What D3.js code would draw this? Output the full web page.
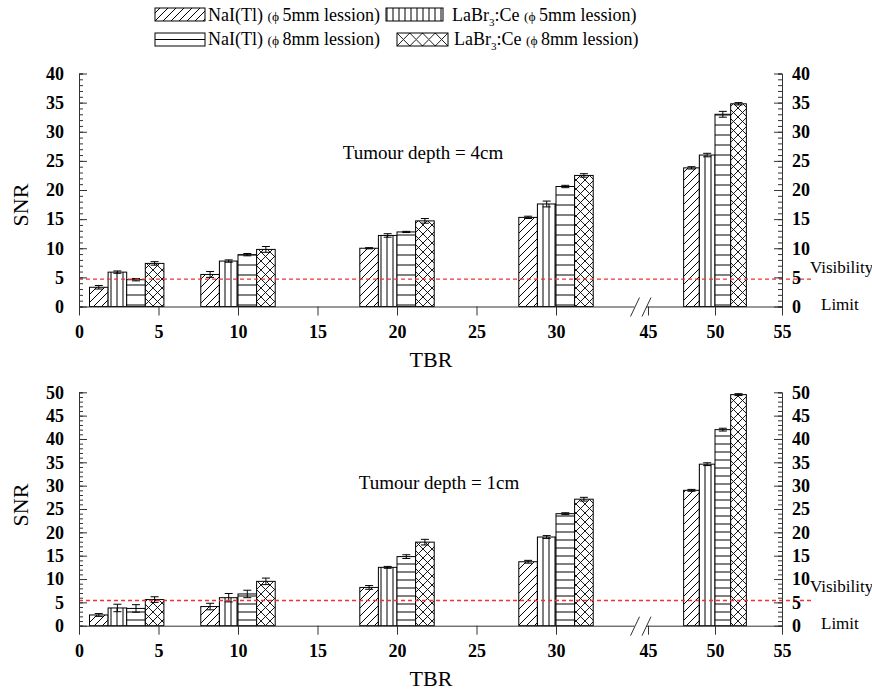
<!DOCTYPE html>
<html>
<head>
<meta charset="utf-8">
<script src="https://cdn.jsdelivr.net/npm/d3@7"></script>
<style>
  body { margin: 0; background: #fff; }
  text { font-family: "Liberation Serif", "Tinos", "Times New Roman", "DejaVu Serif", serif; }
</style>
</head>
<body>
<script>
// TBR groups and series
var tbr = [3, 10, 20, 30, 50];
var seriesNames = ["NaI(Tl) 5mm", "LaBr3:Ce 5mm", "NaI(Tl) 8mm", "LaBr3:Ce 8mm"];

// tumour depth = 4cm
var nai5_4cm  = [3.3, 5.5, 10.0, 15.3, 23.8];
var labr5_4cm = [5.9, 7.8, 12.2, 17.6, 26.0];
var nai8_4cm  = [4.6, 8.9, 12.8, 20.6, 33.0];
var labr8_4cm = [7.4, 9.8, 14.7, 22.5, 34.8];
var err_nai5_4cm  = [0.3, 0.5, 0.1, 0.2, 0.2];
var err_labr5_4cm = [0.2, 0.2, 0.3, 0.5, 0.3];
var err_nai8_4cm  = [0.2, 0.2, 0.1, 0.2, 0.5];
var err_labr8_4cm = [0.3, 0.5, 0.4, 0.3, 0.2];

// tumour depth = 1cm
var nai5_1cm  = [2.3, 4.1, 8.2, 13.7, 29.0];
var labr5_1cm = [3.8, 6.0, 12.5, 19.0, 34.6];
var nai8_1cm  = [3.7, 6.8, 14.8, 24.0, 42.0];
var labr8_1cm = [5.6, 9.5, 17.9, 27.1, 49.5];
var err_nai5_1cm  = [0.3, 0.7, 0.4, 0.3, 0.2];
var err_labr5_1cm = [0.8, 0.9, 0.2, 0.3, 0.3];
var err_nai8_1cm  = [0.8, 0.8, 0.4, 0.2, 0.3];
var err_labr8_1cm = [0.6, 0.7, 0.6, 0.4, 0.2];

var xTicks = [0, 5, 10, 15, 20, 25, 30, 45, 50, 55];
var visLimit4cm = 4.7, visLimit1cm = 5.4;

var barW = 1.17; // bar width in TBR units

var svg = d3.select("body").append("svg")
    .attr("width", 872)
    .attr("height", 692);

var defs = svg.append("defs");

// hatch patterns
function makePatterns(id, hSpace, cross, ox, oy) {
    ox = ox || 0; oy = oy || 0;
    var p1 = defs.append("pattern").attr("id", "diag" + id)
        .attr("patternUnits", "userSpaceOnUse").attr("width", 8).attr("height", 8);
    p1.append("rect").attr("width", 8).attr("height", 8).attr("fill", "#fff");
    p1.append("path").attr("d", "M-2,2 L2,-2 M0,8 L8,0 M6,10 L10,6")
        .attr("stroke", "#000").attr("stroke-width", 1);

    var p2 = defs.append("pattern").attr("id", "vert" + id)
        .attr("patternUnits", "userSpaceOnUse").attr("width", 6).attr("height", 6);
    p2.append("rect").attr("width", 6).attr("height", 6).attr("fill", "#fff");
    p2.append("path").attr("d", "M3,0 L3,6").attr("stroke", "#000").attr("stroke-width", 1);

    var p3 = defs.append("pattern").attr("id", "horz" + id)
        .attr("patternUnits", "userSpaceOnUse").attr("y", oy)
        .attr("width", 8).attr("height", hSpace);
    p3.append("rect").attr("width", 8).attr("height", hSpace).attr("fill", "#fff");
    p3.append("path").attr("d", "M0," + (hSpace / 2) + " L8," + (hSpace / 2))
        .attr("stroke", "#000").attr("stroke-width", 1);

    var p4 = defs.append("pattern").attr("id", "cross" + id)
        .attr("patternUnits", "userSpaceOnUse").attr("x", ox).attr("y", oy)
        .attr("width", cross[0]).attr("height", cross[1]);
    p4.append("rect").attr("width", cross[0]).attr("height", cross[1]).attr("fill", "#fff");
    p4.append("path").attr("d", "M0,0 L" + cross[0] + "," + cross[1] + " M0," + cross[1] + " L" + cross[0] + ",0")
        .attr("stroke", "#000").attr("stroke-width", 0.9);
}
makePatterns("A", 10, [9, 9]);
makePatterns("B", 8, [9, 9]);
makePatterns("L", 13, [12.75, 13], 397, 33);

var x = d3.scaleLinear()
    .domain([0, 35, 45, 55])
    .range([79, 635.5, 648, 782]);

function drawPanel(cfg) {
    var y = d3.scaleLinear().domain([0, cfg.ymax]).range([cfg.y0, cfg.y1]);
    var g = svg.append("g");
    var fills = ["url(#diag" + cfg.id + ")", "url(#vert" + cfg.id + ")",
                 "url(#horz" + cfg.id + ")", "url(#cross" + cfg.id + ")"];

    cfg.series.forEach(function(vals, s) {
        var errs = cfg.errors[s];
        var data = tbr.map(function(t, i) {
            var left = t - 2 * barW + s * barW;
            return {x0: left, x1: left + barW, v: vals[i], e: errs[i]};
        });
        g.selectAll(".bar" + s).data(data).enter().append("rect")
            .attr("x", function(d) { return x(d.x0); })
            .attr("width", function(d) { return x(d.x1) - x(d.x0); })
            .attr("y", function(d) { return y(d.v); })
            .attr("height", function(d) { return y(0) - y(d.v); })
            .attr("fill", fills[s])
            .attr("stroke", "#000")
            .attr("stroke-width", 1);

        var eb = g.selectAll(".err" + s).data(data).enter().append("g");
        eb.append("path")
            .attr("d", function(d) {
                var cx = (x(d.x0) + x(d.x1)) / 2;
                var top = y(d.v + d.e), bot = y(d.v - d.e);
                return "M" + (cx - 4) + "," + top + "H" + (cx + 4) +
                       "M" + cx + "," + top + "V" + bot +
                       "M" + (cx - 4) + "," + bot + "H" + (cx + 4);
            })
            .attr("stroke", "#000")
            .attr("stroke-width", 1)
            .attr("fill", "none");
    });

    // visibility limit
    g.append("line")
        .attr("x1", x(0)).attr("x2", 813)
        .attr("y1", y(cfg.limit)).attr("y2", y(cfg.limit))
        .attr("stroke", "#ee3333")
        .attr("stroke-width", 1.3)
        .attr("stroke-dasharray", "4,3");

    // left axis
    var left = g.append("g").attr("transform", "translate(" + x(0) + ",0)");
    left.call(d3.axisLeft(y).ticks(cfg.ymax / 5).tickSize(-8).tickSizeOuter(0).tickPadding(15));
    left.append("g").call(d3.axisLeft(y).tickValues(d3.range(0, cfg.ymax + 1, 1))
        .tickSize(-4).tickFormat(""));
    // right axis
    var right = g.append("g").attr("transform", "translate(" + x(55) + ",0)");
    right.call(d3.axisRight(y).ticks(cfg.ymax / 5).tickSize(-8).tickSizeOuter(0).tickPadding(10));
    right.append("g").call(d3.axisRight(y).tickValues(d3.range(0, cfg.ymax + 1, 1))
        .tickSize(-4).tickFormat(""));

    // bottom axis
    var bottom = g.append("g").attr("transform", "translate(0," + cfg.y0 + ")");
    bottom.call(d3.axisBottom(x).tickValues(xTicks).tickSize(9).tickSizeOuter(0).tickPadding(10));

    [left, right, bottom].forEach(function(a) {
        a.attr("font-family", null);
        a.selectAll("text").attr("font-size", 18).attr("font-weight", "bold").attr("fill", "#000");
        a.selectAll("path, line").attr("stroke", "#333");
    });

    // axis break
    bottom.append("rect").attr("x", x(35) - 1).attr("y", -2).attr("width", x(45) - x(35) - 1)
        .attr("height", 4).attr("fill", "#fff");
    [x(35) - 5, x(45) - 6].forEach(function(bx) {
        bottom.append("line")
            .attr("x1", bx).attr("y1", 10).attr("x2", bx + 9).attr("y2", -9)
            .attr("stroke", "#333").attr("stroke-width", 1);
    });

    // labels
    g.append("text")
        .attr("transform", "translate(28," + cfg.snrY + ") rotate(-90)")
        .attr("text-anchor", "middle")
        .attr("font-size", 22)
        .text("SNR");
    g.append("text")
        .attr("x", 431).attr("y", cfg.y0 + 60)
        .attr("text-anchor", "middle")
        .attr("font-size", 22)
        .text("TBR");
    g.append("text")
        .attr("x", cfg.titleX).attr("y", cfg.titleY)
        .attr("text-anchor", "middle")
        .attr("font-size", 19)
        .text(cfg.title);
    g.append("text")
        .attr("x", 810).attr("y", cfg.visY)
        .attr("font-size", 17)
        .text("Visibility");
    g.append("text")
        .attr("x", 821).attr("y", y(0) + 3)
        .attr("font-size", 17)
        .text("Limit");
}

drawPanel({
    id: "A", ymax: 40, y0: 306.5, y1: 73.5, limit: visLimit4cm,
    series: [nai5_4cm, labr5_4cm, nai8_4cm, labr8_4cm],
    errors: [err_nai5_4cm, err_labr5_4cm, err_nai8_4cm, err_labr8_4cm],
    title: "Tumour depth = 4cm", titleX: 423, titleY: 159, snrY: 205, visY: 272.5
});

drawPanel({
    id: "B", ymax: 50, y0: 625.7, y1: 392.3, limit: visLimit1cm,
    series: [nai5_1cm, labr5_1cm, nai8_1cm, labr8_1cm],
    errors: [err_nai5_1cm, err_labr5_1cm, err_nai8_1cm, err_labr8_1cm],
    title: "Tumour depth = 1cm", titleX: 439, titleY: 489, snrY: 505, visY: 592
});

// legend
var legendItems = [
    {fill: "url(#diagL)", x: 155, y: 8, w: 50, tx: 208, ty: 21, det: "NaI(Tl)", size: "5mm"},
    {fill: "url(#vertL)", x: 386, y: 8, w: 57, tx: 452, ty: 21, det: "LaBr", size: "5mm"},
    {fill: "url(#horzL)", x: 155, y: 33, w: 50, tx: 208, ty: 45, det: "NaI(Tl)", size: "8mm"},
    {fill: "url(#crossL)", x: 397, y: 33, w: 51, tx: 454, ty: 45, det: "LaBr", size: "8mm"}
];
var leg = svg.append("g");
legendItems.forEach(function(d) {
    leg.append("rect").attr("x", d.x).attr("y", d.y).attr("width", d.w).attr("height", 13)
        .attr("fill", d.fill).attr("stroke", "#000").attr("stroke-width", 1);
    var t = leg.append("text").attr("x", d.tx).attr("y", d.ty).attr("font-size", 18);
    if (d.det === "LaBr") {
        t.append("tspan").text("LaBr");
        t.append("tspan").attr("font-size", 11).attr("dy", 5).text("3");
        t.append("tspan").attr("dy", -5).text(":Ce ");
    } else {
        t.append("tspan").text("NaI(Tl) ");
    }
    t.append("tspan").attr("font-size", 13.5).text("(\u03D5 ");
    t.append("tspan").text(d.size + " lession)");
});
</script>
</body>
</html>
